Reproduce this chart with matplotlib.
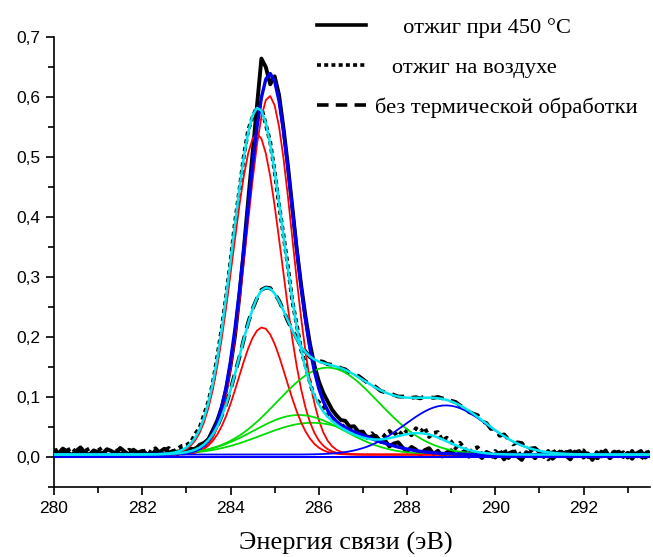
import numpy as np
import matplotlib
matplotlib.use("Agg")
import matplotlib.pyplot as plt
from matplotlib.lines import Line2D
from matplotlib.ticker import MultipleLocator, FuncFormatter

# Energy grid of the measured C1s spectra (eV)
E_START, E_STOP, E_STEP = 280.0, 293.5, 0.1

# Fitted peaks: (centre eV, height, FWHM eV, colour)
PEAKS_450 = [(284.88, 0.598, 1.22, "#ff0000"), (285.85, 0.053, 2.70, "#00dd00")]
PEAKS_AIR = [(284.60, 0.535, 1.32, "#ff0000"), (285.55, 0.066, 2.40, "#00dd00"),
             (288.30, 0.034, 1.50, None)]
PEAKS_RAW = [(284.72, 0.212, 1.25, "#ff0000"), (286.20, 0.145, 2.70, "#00dd00"),
             (288.88, 0.082, 2.20, "#0000ff")]
BASE = 0.004

# Measured-minus-fit residuals, 1e-3 units, one per grid point
NOISE_450 = [8, 2, 10, 5, -1, 6, 12, 3, 0, 7,
             4, -2, 9, 6, 1, 11, 5, 0, 8, 3,
             6, 1, -3, 7, 4, 9, 2, 5, -1, 6,
             3, 5, 2, 6, 4, 2, 5, 3, 0, -5,
             -8, -12, -8, 0, 10, 18, 35, 65, 20, -18,
             8, 10, 5, 4, 2, 0, 3, 6, 8, 10,
             12, 14, 15, 12, 10, 8, 11, 5, 9, 3,
             6, -2, 4, 7, 0, 5, -3, 4, 8, 1,
             -4, 5, 2, -6, 3, 7, -2, 4, -5, 2,
             6, -3, 1, 5, -4, 3, 0, -6, 4, 1,
             -5, 3, -8, 2, 5, -3, -9, 4, 1, -6,
             3, -4, 6, -7, 0, 5, -2, -8, 3, 6,
             -5, 2, -9, 4, -3, 7, -6, 1, 5, -4,
             3, -7, 2, 6, -5, 0]
NOISE_AIR = [5, 9, 2, 7, 11, 4, 0, 6, 10, 3,
             7, 12, 4, -1, 6, 9, 2, 8, 5, 0,
             4, 8, 3, 10, 1, 6, 9, 2, 5, 7,
             4, 2, 6, 3, 5, 2, 0, 3, 2, 0,
             0, 3, -2, 2, 4, -3, 2, 5, -2, 3,
             0, -3, 2, 4, -2, 3, 0, 5, 2, -3,
             4, 8, 2, 6, -1, 7, 3, 9, 1, 5,
             8, 2, 10, 4, -2, 7, 12, 3, 9, 0,
             6, -3, 8, 2, 10, -4, 5, 9, -2, 6,
             3, -5, 7, 1, -6, 4, 8, -3, 2, -7,
             5, -2, 9, -6, 3, 7, -4, 1, 8, -5,
             -3, 6, -8, 2, 9, -1, 4, -7, 5, 0,
             7, -4, 3, -9, 5, 1, -6, 8, -2, 4,
             -5, 6, 0, -8, 3, 5]
NOISE_RAW = [3, 1, 4, 2, 0, 3, 5, 1, 2, 4,
             1, 3, 0, 2, 4, 1, 3, 2, 0, 3,
             2, 4, 1, 3, 0, 2, 4, 1, 3, 2,
             1, 0, 2, 1, 0, 1, 2, 0, 1, 0,
             0, 1, -1, 0, 1, 0, -1, 1, 0, 1,
             0, 1, 0, -1, 1, 2, 0, 1, -1, 0,
             1, 2, 0, 1, 2, 0, 1, -1, 0, 2,
             1, 0, 2, 1, -1, 0, 2, 1, 0, 1,
             2, 0, 1, -1, 2, 1, 0, 2, 1, 0,
             1, 2, 0, 1, -2, 0, 3, -2, 1, -3,
             2, -4, 3, -1, -5, 2, 4, -3, 0, 3,
             -2, 4, -5, 1, 3, -4, 2, 5, -3, 0,
             4, -2, 1, -6, 3, 2, -4, 5, -1, 2,
             -3, 4, 0, -5, 2, 3]

LABELS = ["     отжиг при 450 \u00b0C", "   отжиг на воздухе", "без термической обработки"]

XTICKS = [280, 282, 284, 286, 288, 290, 292]
YTICKS = [0.0, 0.1, 0.2, 0.3, 0.4, 0.5, 0.6, 0.7]


def gauss(e, centre, height, fwhm):
    return height * np.exp(-4 * np.log(2) * ((e - centre) / fwhm) ** 2)


energy = np.arange(int(round((E_STOP - E_START) / E_STEP)) + 1) * E_STEP + E_START

fig = plt.figure(figsize=(6.53, 5.57), dpi=100)
ax = fig.add_axes([0.0827, 0.1257, 0.9123, 0.8079])

dotted = (0, (1.1, 0.9))
dashed = (0, (3.2, 2.0))
data_styles = [
    (PEAKS_450, NOISE_450, "-", "#0000ee", 2.4),
    (PEAKS_AIR, NOISE_AIR, dotted, "#00e5f0", 1.8),
    (PEAKS_RAW, NOISE_RAW, dashed, "#00e5f0", 1.8),
]

fits = []
for peaks, noise, ls, fit_col, fit_lw in data_styles:
    comps = [(gauss(energy, c, h, w), col) for c, h, w, col in peaks]
    envelope = BASE + sum(y for y, _ in comps)
    measured = envelope + np.array(noise) / 1000.0
    ax.plot(energy, measured, color="black", lw=2.8, ls=ls, zorder=2)
    fits.append((comps, envelope, fit_col, fit_lw))

ax.plot(energy, np.zeros_like(energy), color="#0000ff", lw=1.5, zorder=3)
for comps, envelope, fit_col, fit_lw in fits:
    for y, col in comps:
        if col is not None:
            ax.plot(energy, BASE + y, color=col, lw=1.3, zorder=3)
for comps, envelope, fit_col, fit_lw in fits:
    ax.plot(energy, envelope, color=fit_col, lw=fit_lw, zorder=4)

ax.set_xlim(280, 293.5)
ax.set_ylim(-0.05, 0.7)
for side in ("top", "right"):
    ax.spines[side].set_visible(False)
ax.spines["left"].set_linewidth(1.2)
ax.spines["bottom"].set_linewidth(1.2)

ax.set_xticks(XTICKS)
ax.set_yticks(YTICKS)
ax.xaxis.set_minor_locator(MultipleLocator(1))
ax.yaxis.set_minor_locator(MultipleLocator(0.05))
ax.yaxis.set_major_formatter(FuncFormatter(lambda v, p: f"{v:.1f}".replace(".", ",")))
ax.tick_params(which="major", direction="out", length=6, width=1.2,
               labelsize=12.5, pad=4)
ax.tick_params(which="minor", direction="out", length=4, width=1.2)
for lab in ax.get_xticklabels() + ax.get_yticklabels():
    lab.set_family("Liberation Sans")

ax.set_xlabel("Энергия связи (эВ)", family="Liberation Serif", fontsize=19, labelpad=3)
ax.xaxis.set_label_coords(0.49, -0.1)

handles = [Line2D([], [], color="black", lw=2.6, ls=s) for s in ("-", dotted, dashed)]
ax.legend(handles, LABELS, loc="upper left", bbox_to_anchor=(0.468, 0.99),
          bbox_transform=fig.transFigure, frameon=False,
          prop={"family": "Liberation Serif", "size": 16.2},
          handlelength=2.2, handletextpad=0.4, labelspacing=0.87, borderpad=0)

fig.savefig("out.png", dpi=100)
